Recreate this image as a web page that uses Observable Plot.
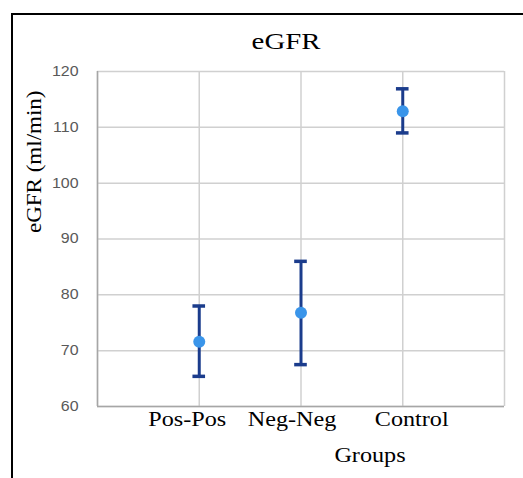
<!DOCTYPE html>
<html>
<head>
<meta charset="utf-8">
<script src="https://cdn.jsdelivr.net/npm/d3@7"></script>
<script src="https://cdn.jsdelivr.net/npm/@observablehq/plot@0.6"></script>
<style>
  html, body { margin: 0; padding: 0; background: #fff; overflow: hidden; }
  #wrap { position: relative; width: 523px; height: 478px; }
  #border { position: absolute; left: 11px; top: 13px; width: 620px; height: 620px; border: 2px solid #000; pointer-events: none; box-sizing: border-box; }
</style>
</head>
<body>
<div id="wrap"><div id="border"></div></div>
<script>
const groups = ["Pos-Pos", "Neg-Neg", "Control"];
const means = [71.6, 76.8, 112.9];
const lows = [65.4, 67.5, 109.0];
const highs = [78.0, 86.0, 116.9];
const yTicks = [60, 70, 80, 90, 100, 110, 120];
const xPositions = [1, 2, 3];
const xGrid = [0, 1, 2, 3, 4];

const data = groups.map((g, i) => ({group: g, pos: xPositions[i], mean: means[i], low: lows[i], high: highs[i]}));
const capHalf = 0.062;
const navy = "#1b3c8c";
const serif = "Liberation Serif, Times New Roman, serif";
const labelShift = [-12, -9, 9];

const chart = Plot.plot({
  width: 523,
  height: 478,
  marginLeft: 97,
  marginRight: 19,
  marginTop: 71,
  marginBottom: 72,
  style: {background: "transparent", overflow: "visible"},
  x: {domain: [0, 4], axis: null},
  y: {domain: [60, 120], axis: null},
  marks: [
    Plot.ruleX(xGrid, {stroke: "#d0d0d0", strokeWidth: 1.5}),
    Plot.ruleY(yTicks, {stroke: "#d0d0d0", strokeWidth: 1.5}),
    Plot.ruleX([0], {stroke: "#a6a6a6", strokeWidth: 1.5}),
    Plot.ruleY([60], {stroke: "#a6a6a6", strokeWidth: 1.5}),
    Plot.axisY({ticks: yTicks, tickSize: 0, tickPadding: 19, fontSize: 14, fill: "#595959", fontFamily: "Liberation Sans, Arial, sans-serif", label: null, className: "ytick"}),
    ...data.map((d, i) => Plot.text([d], {x: "pos", y: () => 60, text: "group", lineAnchor: "bottom", dy: 19, dx: labelShift[i], fontSize: 21, fontFamily: serif, fill: "#000", className: "xlab"})),
    Plot.ruleX(data, {x: "pos", y1: "low", y2: "high", stroke: navy, strokeWidth: 3}),
    Plot.ruleY(data, {y: "low", x1: d => d.pos - capHalf, x2: d => d.pos + capHalf, stroke: navy, strokeWidth: 3.5}),
    Plot.ruleY(data, {y: "high", x1: d => d.pos - capHalf, x2: d => d.pos + capHalf, stroke: navy, strokeWidth: 3.5}),
    Plot.dot(data, {x: "pos", y: "mean", r: 6, fill: "#3a95ea", stroke: "none"}),
    Plot.text(["eGFR"], {frameAnchor: "top", lineAnchor: "bottom", dx: -15, dy: -23, fontSize: 24, fontFamily: serif, fill: "#000", className: "title"}),
    Plot.text(["Groups"], {frameAnchor: "bottom", lineAnchor: "bottom", dx: 69, dy: 55, fontSize: 22, fontFamily: serif, fill: "#000", className: "xtitle"}),
    Plot.text(["eGFR (ml/min)"], {frameAnchor: "left", lineAnchor: "bottom", rotate: -90, dx: -57, dy: -6, fontSize: 21.5, fontFamily: serif, fill: "#000", className: "ytitle"})
  ]
});
chart.style.position = "absolute";
chart.style.left = "0px";
chart.style.top = "0px";
document.getElementById("wrap").appendChild(chart);

// horizontal widening of glyphs, as in the reference image
const stretch = {ytick: 1.14, xlab: 1.15, title: 1.2, xtitle: 1.1, ytitle: 1.07};
for (const [cls, f] of Object.entries(stretch)) {
  chart.querySelectorAll("." + cls + " text").forEach(t => {
    const len = t.getComputedTextLength();
    t.setAttribute("textLength", (len * f).toFixed(2));
    t.setAttribute("lengthAdjust", "spacingAndGlyphs");
  });
}
</script>
</body>
</html>
